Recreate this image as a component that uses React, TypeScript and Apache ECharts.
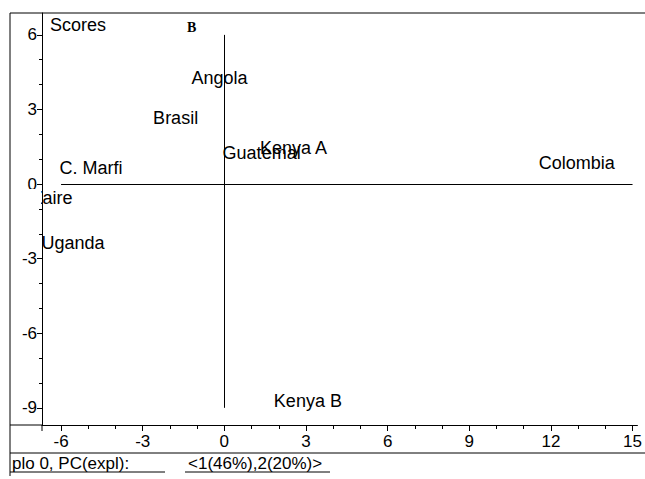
import React, { useEffect, useRef } from "react";
import * as echarts from "echarts";

const names = ["Angola", "Brasil", "Guatemal", "Kenya A", "C. Marfi", "Zaire", "Uganda", "Colombia", "Kenya B"];
const pc1 = [-0.18, -1.79, 1.37, 2.54, -4.9, -6.33, -5.56, 12.95, 3.07];
const pc2 = [4.28, 2.67, 1.25, 1.47, 0.66, -0.56, -2.37, 0.84, -8.73];
const xTicks = [-6, -3, 0, 3, 6, 9, 12, 15];
const yTicks = [-9, -6, -3, 0, 3, 6];
const xMinor = [-6, -5, -4, -3, -2, -1, 0, 1, 2, 3, 4, 5, 6, 7, 8, 9, 10, 11, 12, 13, 14, 15];
const yMinor = [-9, -8, -7, -6, -5, -4, -3, -2, -1, 0, 1, 2, 3, 4, 5, 6];

const FONT = "'Liberation Sans', Arial, sans-serif";
const INK = "#000";

export default function App() {
  const ref = useRef<HTMLDivElement>(null);
  useEffect(() => {
    document.body.style.margin = "0";
    const chart = echarts.init(ref.current!, null, { renderer: "svg" });
    const xMin = -6.7, xMax = 15.18, yMin = -9.69, yMax = 6.88;
    const mkX = (major: boolean) => ({
      type: "value",
      min: xMin,
      max: xMax,
      position: "bottom",
      axisLine: { show: major, onZero: false, lineStyle: { color: INK, width: 1 } },
      axisTick: { show: true, customValues: major ? xTicks : xMinor, length: major ? 6 : 4, lineStyle: { color: INK } },
      axisLabel: major
        ? { show: true, customValues: xTicks, fontSize: 17, color: INK, fontFamily: FONT, margin: 8 }
        : { show: false },
      splitLine: { show: false },
    });
    const mkY = (major: boolean) => ({
      type: "value",
      min: yMin,
      max: yMax,
      position: "left",
      axisLine: { show: major, onZero: false, lineStyle: { color: INK, width: 1 } },
      axisTick: { show: true, customValues: major ? yTicks : yMinor, length: major ? 5 : 3, lineStyle: { color: INK } },
      axisLabel: major
        ? { show: true, customValues: yTicks, fontSize: 17, color: INK, fontFamily: FONT, margin: 5 }
        : { show: false },
      splitLine: { show: false },
    });
    chart.setOption({
      animation: false,
      backgroundColor: "#fff",
      grid: { left: 42, right: 5, top: 13, bottom: 54, containLabel: false },
      xAxis: [mkX(true), mkX(false)],
      yAxis: [mkY(true), mkY(false)],
      series: [
        {
          type: "scatter",
          xAxisIndex: 0,
          yAxisIndex: 0,
          symbolSize: 0,
          clip: false,
          itemStyle: { opacity: 1, color: INK },
          data: names.map((n, i) => ({ name: n, value: [pc1[i], pc2[i]] })),
          label: {
            show: true,
            position: "inside",
            formatter: "{b}",
            fontSize: 18,
            color: INK,
            opacity: 1,
            fontFamily: FONT,
          },
          markLine: {
            silent: true,
            symbol: ["none", "none"],
            label: { show: false },
            lineStyle: { color: INK, width: 1, type: "solid", opacity: 1 },
            data: [
              [{ coord: [xTicks[0], 0] }, { coord: [xTicks[xTicks.length - 1], 0] }],
              [{ coord: [0, yTicks[0]] }, { coord: [0, yTicks[yTicks.length - 1]] }],
            ],
          },
        },
      ],
      graphic: [
        { type: "rect", z: 100, shape: { x: 11, y: 189, width: 30, height: 18 }, style: { fill: "#fff" } },
        { type: "line", z: 101, shape: { x1: 10, y1: 13, x2: 10, y2: 476 }, style: { stroke: INK, lineWidth: 1 } },
        { type: "line", z: 101, shape: { x1: 10, y1: 13, x2: 645, y2: 13 }, style: { stroke: INK, lineWidth: 1 } },
        { type: "line", z: 101, shape: { x1: 10, y1: 425, x2: 42, y2: 425 }, style: { stroke: INK, lineWidth: 1 } },
        { type: "line", z: 101, shape: { x1: 42, y1: 425, x2: 42, y2: 431 }, style: { stroke: INK, lineWidth: 1 } },
        { type: "line", z: 101, shape: { x1: 10, y1: 453, x2: 645, y2: 453 }, style: { stroke: INK, lineWidth: 1 } },
        { type: "line", z: 101, shape: { x1: 10, y1: 472, x2: 165, y2: 472 }, style: { stroke: INK, lineWidth: 1 } },
        { type: "line", z: 101, shape: { x1: 185, y1: 472, x2: 330, y2: 472 }, style: { stroke: INK, lineWidth: 1 } },
        { type: "text", z: 101, x: 50, y: 25, style: { text: "Scores", fontSize: 18, fontFamily: FONT, fill: INK, textVerticalAlign: "middle" } },
        { type: "text", z: 101, x: 187, y: 27, style: { text: "B", fontSize: 14, fontWeight: "bold", fontFamily: "'Liberation Serif', 'Times New Roman', serif", fill: INK, textVerticalAlign: "middle" } },
        { type: "text", z: 101, x: 12, y: 463, style: { text: "plo 0, PC(expl):", fontSize: 17, fontFamily: FONT, fill: INK, textVerticalAlign: "middle" } },
        { type: "text", z: 101, x: 188, y: 463, style: { text: "<1(46%),2(20%)>", fontSize: 17, fontFamily: FONT, fill: INK, textVerticalAlign: "middle" } },
      ],
    });
    return () => chart.dispose();
  }, []);
  return <div ref={ref} style={{ width: 645, height: 479 }} />;
}
